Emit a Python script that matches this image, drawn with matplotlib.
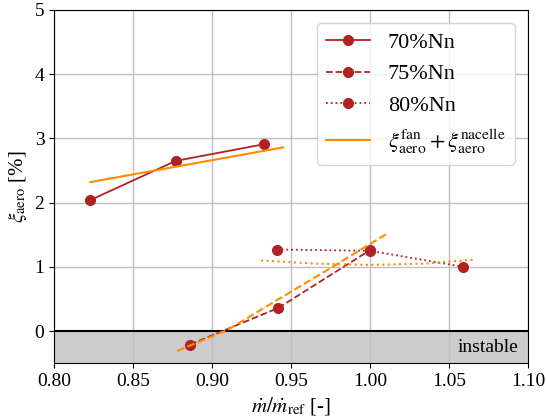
import matplotlib
matplotlib.use("Agg")
import matplotlib.pyplot as plt

plt.rcParams['font.family'] = ['Liberation Serif', 'DejaVu Serif']
plt.rcParams['mathtext.fontset'] = 'stix'

# measured points (mass flow ratio, loss in %)
mdot_70 = [0.823, 0.877, 0.933]
xi_70 = [2.04, 2.65, 2.91]
mdot_75 = [0.886, 0.942, 1.000]
xi_75 = [-0.21, 0.36, 1.26]
mdot_80 = [0.941, 1.000, 1.059]
xi_80 = [1.27, 1.25, 1.00]

# model: xi_fan + xi_nacelle
model_x_70 = [0.823, 0.945]
model_y_70 = [2.32, 2.86]
model_x_75 = [0.878, 0.910, 0.941, 0.975, 1.011]
model_y_75 = [-0.31, 0.02, 0.48, 0.98, 1.52]
model_x_80 = [0.931, 0.965, 1.000, 1.035, 1.065]
model_y_80 = [1.10, 1.05, 1.03, 1.05, 1.11]

red = '#b22222'
orange = '#ff8c00'

fig = plt.figure(figsize=(5.46, 4.16), dpi=100)
ax = fig.add_axes([0.099, 0.127, 0.868, 0.849])

ax.axhspan(-0.5, 0, color='#cccccc', zorder=0)
ax.axhline(0, color='black', lw=1.5, zorder=1)

ax.plot(mdot_70, xi_70, '-', marker='o', color=red, ms=7, lw=1.3, label='70%Nn')
ax.plot(mdot_75, xi_75, '--', marker='o', color=red, ms=7, lw=1.3, label='75%Nn')
ax.plot(mdot_80, xi_80, ':', marker='o', color=red, ms=7, lw=1.3, label='80%Nn')
ax.plot(model_x_70, model_y_70, '-', color=orange, lw=1.5,
        label=r'$\xi_{\rm aero}^{\rm fan}+\xi_{\rm aero}^{\rm nacelle}$')
ax.plot(model_x_75, model_y_75, '--', color=orange, lw=1.5)
ax.plot(model_x_80, model_y_80, ':', color=orange, lw=1.5)

ax.text(1.094, -0.25, 'instable', ha='right', va='center', fontsize=14)

ax.set_xlim(0.80, 1.10)
ax.set_ylim(-0.5, 5)
ax.set_xticks([0.80, 0.85, 0.90, 0.95, 1.00, 1.05, 1.10])
ax.set_yticks([0, 1, 2, 3, 4, 5])
ax.tick_params(labelsize=14)
ax.grid(True, color='#c0c0c0', lw=1)
ax.set_axisbelow(True)
ax.set_xlabel(r'$\dot{m}/\dot{m}_{\rm ref}$ [-]', fontsize=15)
ax.set_ylabel(r'$\xi_{\rm aero}$ [%]', fontsize=15)
ax.legend(loc='upper right', fontsize=16, borderaxespad=0.6)

fig.savefig('out.png', dpi=100)
